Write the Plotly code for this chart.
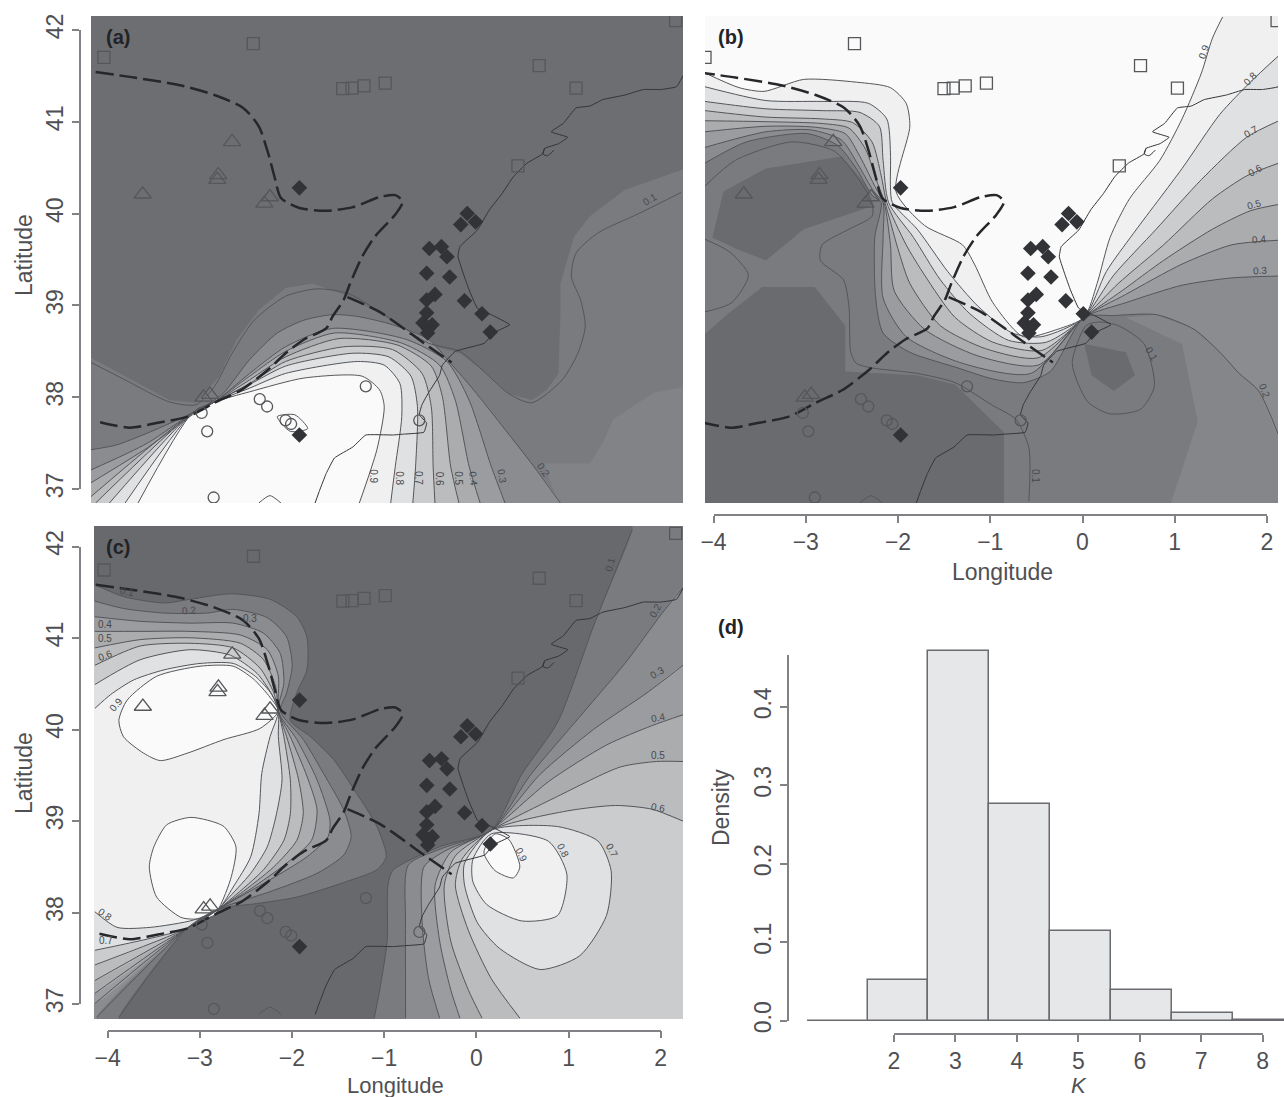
import plotly.graph_objects as go

W, H = 1284, 1097

# ------------------------------------------------------------------ data
SQ_LON = [-4.04, -2.42, -1.45, -1.35, -1.22, -0.99, 0.68, 1.08, 0.45, 2.16]
SQ_LAT = [41.70, 41.85, 41.36, 41.365, 41.39, 41.42, 41.61, 41.365, 40.52, 42.10]
TRI_LON = [-2.65, -2.80, -2.81, -3.62, -2.24, -2.30, -2.89, -2.96]
TRI_LAT = [40.78, 40.42, 40.37, 40.21, 40.18, 40.11, 38.03, 38.00]
CIR_LON = [-2.98, -2.92, -2.85, -2.35, -2.27, -1.20, -0.62, -2.07, -2.01]
CIR_LAT = [37.83, 37.63, 36.91, 37.98, 37.90, 38.12, 37.75, 37.75, 37.71]
DIA_LON = [-1.92, -0.10, -0.17, -0.01, -0.51, -0.38, -0.32, -0.54, -0.29, -0.45, -0.54, -0.13, -0.54, 0.06, -0.58, -0.48, -0.52, -0.53, 0.15, -1.92]
DIA_LAT = [40.28, 40.00, 39.88, 39.91, 39.62, 39.64, 39.53, 39.35, 39.31, 39.12, 39.06, 39.05, 38.92, 38.91, 38.81, 38.79, 38.75, 38.70, 38.71, 37.59]

COAST_LON = [2.24, 2.17, 2.00, 1.81, 1.61, 1.37, 1.23, 1.08, 0.94, 0.81, 0.99, 0.89, 0.74, 0.72, 0.55, 0.40, 0.28, 0.14, 0.01, -0.18, -0.20, -0.13, -0.08, 0.01, 0.16, 0.36, 0.18, 0.09, -0.23, -0.37, -0.40, -0.52, -0.59, -0.62, -0.54, -0.57, -0.78, -0.91, -1.20, -1.34, -1.54, -1.63, -1.70, -1.75]
COAST_LAT = [41.50, 41.38, 41.35, 41.35, 41.29, 41.24, 41.17, 41.15, 40.98, 40.89, 40.83, 40.76, 40.71, 40.65, 40.55, 40.40, 40.22, 40.04, 39.82, 39.64, 39.53, 39.31, 39.17, 38.97, 38.90, 38.79, 38.70, 38.59, 38.50, 38.35, 38.24, 38.05, 37.92, 37.81, 37.72, 37.62, 37.60, 37.59, 37.59, 37.46, 37.34, 37.17, 36.99, 36.85]
BAY_LON = [0.74, 0.72, 0.77, 0.84]
BAY_LAT = [40.71, 40.65, 40.63, 40.69]
ARC_LON = [-2.36, -2.24, -2.12]
ARC_LAT = [36.85, 36.93, 36.85]

DASH1_LON = [-4.13, -3.71, -3.23, -2.84, -2.53, -2.36, -2.26, -2.19, -2.12, -1.92, -1.63, -1.34, -1.05, -0.88, -0.80, -0.88, -1.10, -1.24, -1.37, -1.44, -1.56, -1.63, -1.87, -2.07, -2.26, -2.55, -2.84, -3.13, -3.47, -3.76, -4.13]
DASH1_LAT = [41.54, 41.48, 41.40, 41.29, 41.15, 40.95, 40.66, 40.40, 40.17, 40.06, 40.03, 40.07, 40.18, 40.20, 40.13, 39.99, 39.75, 39.53, 39.24, 39.06, 38.88, 38.75, 38.63, 38.48, 38.30, 38.08, 37.94, 37.79, 37.72, 37.67, 37.74]
DASH2_LON = [-1.40, -1.05, -0.57, -0.27]
DASH2_LAT = [39.09, 38.93, 38.59, 38.38]

# panel (a) contours
A01_LON = [2.22, 1.76, 1.32, 1.08, 1.03, 1.13, 1.18, 1.10, 0.93, 0.60, 0.35, 0.06, -0.18, -0.52, -0.91, -1.39, -1.73, -2.07, -2.41, -2.65, -2.84, -3.04, -3.33, -3.81, -4.20]
A01_LAT = [40.23, 40.00, 39.79, 39.57, 39.31, 39.06, 38.77, 38.48, 38.19, 37.94, 38.04, 38.30, 38.50, 38.59, 38.84, 39.13, 39.18, 39.10, 38.84, 38.48, 38.12, 37.92, 37.95, 38.19, 38.39]
A02_LON = [-4.18, -3.91, -3.57, -3.23, -2.99, -2.75, -2.46, -2.16, -1.87, -1.56, -1.29, -0.91, -0.52, -0.28, -0.03, 0.31, 0.62, 0.91]
A02_LAT = [37.43, 37.48, 37.61, 37.76, 37.88, 38.04, 38.41, 38.70, 38.84, 38.90, 38.88, 38.79, 38.63, 38.37, 38.08, 37.65, 37.25, 36.85]
A03_LON = [-4.18, -3.57, -3.08, -2.84, -2.46, -2.07, -1.56, -0.76, -0.32, -0.08, 0.16, 0.31]
A03_LAT = [37.21, 37.50, 37.83, 37.95, 38.26, 38.55, 38.75, 38.63, 38.39, 37.97, 37.25, 36.85]
A04_LON = [-4.18, -3.57, -3.08, -2.84, -2.46, -2.07, -1.54, -0.81, -0.40, -0.23, -0.08, 0.04]
A04_LAT = [37.07, 37.45, 37.81, 37.95, 38.23, 38.50, 38.70, 38.59, 38.35, 37.97, 37.25, 36.85]
A05_LON = [-4.18, -3.08, -2.84, -2.46, -2.07, -1.49, -0.86, -0.49, -0.37, -0.28, -0.19]
A05_LAT = [36.92, 37.83, 37.95, 38.19, 38.44, 38.64, 38.57, 38.34, 38.01, 37.25, 36.85]
A06_LON = [-4.13, -3.08, -2.84, -2.46, -2.07, -1.44, -0.91, -0.59, -0.49, -0.47, -0.45]
A06_LAT = [36.85, 37.83, 37.95, 38.15, 38.39, 38.55, 38.52, 38.26, 37.90, 37.25, 36.85]
A07_LON = [-3.98, -3.08, -2.84, -2.46, -2.07, -1.34, -0.95, -0.71, -0.64, -0.66, -0.69]
A07_LAT = [36.85, 37.83, 37.95, 38.14, 38.34, 38.48, 38.44, 38.23, 37.90, 37.25, 36.85]
A08_LON = [-3.81, -3.08, -2.84, -2.46, -2.07, -1.29, -1.00, -0.83, -0.81, -0.88, -0.93]
A08_LAT = [36.85, 37.83, 37.95, 38.10, 38.26, 38.39, 38.35, 38.15, 37.79, 37.25, 36.85]
A09_LON = [-3.67, -3.08, -2.84, -2.46, -1.87, -1.24, -1.05, -1.00, -1.08, -1.27]
A09_LAT = [36.85, 37.83, 37.95, 38.06, 38.21, 38.23, 38.08, 37.90, 37.43, 36.85]
A10_LON = [-2.16, -1.97, -1.83, -2.02, -2.16]
A10_LAT = [37.79, 37.81, 37.66, 37.63, 37.79]
# panel (a) shading edges
AF1_LON = [2.24, 1.61, 1.23, 1.06, 0.91, 0.91, 0.89, 0.76, 0.60, 0.35, 0.11, -0.18, -0.52, -0.91, -1.39, -1.78, -2.07, -2.36, -2.60, -2.79, -3.04, -3.33, -3.81, -4.18]
AF1_LAT = [40.48, 40.26, 39.97, 39.75, 39.24, 38.88, 38.26, 38.08, 37.97, 38.04, 38.26, 38.48, 38.57, 38.83, 39.10, 39.24, 39.19, 38.95, 38.63, 38.23, 37.94, 37.97, 38.23, 38.43]
AF2_LON = [2.40, 1.92, 1.48, 1.39, 1.23, 0.73, 0.91, 2.40]
AF2_LAT = [38.14, 38.05, 37.76, 37.54, 37.28, 37.28, 36.80, 36.80]

# panel (b) contours
B09_LON = [-4.04, -3.67, -3.40, -2.97, -2.40, -2.03, -1.86, -1.82, -1.97, -1.66, -1.25, -1.12, -0.92, -0.59, -0.22, 0.07, 0.21, 0.35, 0.56, 0.89, 1.13, 1.34, 1.46, 1.57]
B09_LAT = [41.53, 41.37, 41.33, 41.46, 41.43, 41.37, 41.20, 40.95, 40.24, 39.87, 39.66, 39.45, 39.03, 38.66, 38.74, 38.87, 39.24, 39.74, 40.16, 40.58, 41.03, 41.53, 41.91, 42.14]
B08_LON = [-4.04, -3.38, -2.77, -2.27, -2.07, -2.03, -2.03, -2.01, -1.74, -1.41, -1.08, -0.71, -0.39, 0.07, 0.31, 0.60, 1.13, 1.54, 1.87, 2.18]
B08_LAT = [41.38, 41.23, 41.22, 41.20, 41.03, 40.66, 40.28, 40.12, 39.83, 39.37, 38.99, 38.70, 38.66, 38.87, 39.37, 39.78, 40.49, 41.08, 41.43, 41.72]
B07_LON = [-4.04, -3.38, -2.77, -2.36, -2.15, -2.11, -2.05, -1.78, -1.49, -1.17, -0.75, -0.34, 0.07, 0.39, 0.85, 1.34, 1.83, 2.18]
B07_LAT = [41.22, 41.14, 41.12, 41.10, 40.95, 40.58, 40.12, 39.74, 39.28, 38.91, 38.62, 38.60, 38.87, 39.33, 39.83, 40.37, 40.83, 41.01]
B06_LON = [-4.04, -3.38, -2.77, -2.44, -2.23, -2.13, -2.07, -1.86, -1.66, -1.33, -0.92, -0.39, 0.07, 0.44, 0.93, 1.46, 1.83, 2.18]
B06_LAT = [41.12, 41.05, 41.03, 40.99, 40.78, 40.41, 40.12, 39.66, 39.33, 38.87, 38.60, 38.51, 38.87, 39.24, 39.66, 40.16, 40.41, 40.55]
B05_LON = [-4.04, -3.38, -2.77, -2.48, -2.30, -2.17, -2.09, -1.95, -1.82, -1.49, -1.00, -0.43, 0.07, 0.48, 0.93, 1.46, 1.87, 2.18]
B05_LAT = [41.01, 41.00, 40.98, 40.93, 40.70, 40.33, 40.12, 39.62, 39.24, 38.78, 38.53, 38.43, 38.87, 39.16, 39.49, 39.83, 40.03, 40.10]
B04_LON = [-4.04, -3.38, -2.85, -2.52, -2.36, -2.19, -2.10, -2.03, -1.99, -1.66, -1.08, -0.43, 0.07, 0.52, 1.13, 1.67, 2.18]
B04_LAT = [40.89, 40.95, 40.94, 40.87, 40.62, 40.28, 40.12, 39.66, 39.16, 38.74, 38.45, 38.35, 38.87, 39.12, 39.45, 39.66, 39.71]
B03_LON = [-4.04, -3.38, -2.89, -2.56, -2.38, -2.21, -2.11, -2.11, -2.11, -1.86, -1.25, -0.51, 0.07, 0.52, 1.13, 1.67, 2.18]
B03_LAT = [40.72, 40.89, 40.91, 40.80, 40.53, 40.24, 40.12, 39.74, 39.08, 38.66, 38.37, 38.26, 38.87, 39.03, 39.22, 39.30, 39.32]
B02_LON = [-4.04, -3.59, -2.93, -2.60, -2.40, -2.23, -2.13, -2.20, -2.19, -2.11, -1.82, -1.33, -0.92, -0.59, -0.30, 0.07, 0.39, 0.85, 1.26, 1.54, 1.75, 1.96, 2.18]
B02_LAT = [40.55, 40.78, 40.87, 40.74, 40.49, 40.20, 40.12, 39.74, 39.08, 38.70, 38.49, 38.33, 38.20, 38.16, 38.28, 38.87, 38.89, 38.90, 38.74, 38.49, 38.26, 38.07, 37.58]
B01A_LON = [-4.04, -3.71, -3.10, -2.64, -2.40, -2.23, -2.23, -2.48, -2.77, -2.79, -2.54, -2.48, -2.46, -2.40, -2.23, -1.74, -1.33, -0.92, -0.67, -0.53, -0.53]
B01A_LAT = [40.30, 40.58, 40.78, 40.68, 40.41, 40.12, 39.97, 39.83, 39.66, 39.49, 39.28, 38.99, 38.49, 38.37, 38.32, 38.26, 38.16, 37.91, 37.76, 37.45, 36.87]
B01B_LON = [-4.04, -3.77, -3.57, -3.75, -4.04]
B01B_LAT = [39.72, 39.58, 39.33, 39.03, 38.93]
B01C_LON = [0.09, -0.06, 0.11, 0.35, 0.68, 0.83, 0.72, 0.44, 0.23, 0.09]
B01C_LAT = [38.78, 38.37, 37.95, 37.82, 37.87, 38.12, 38.58, 38.78, 38.82, 38.78]
# panel (b) shading edges
BF1_LON = [-3.96, -3.84, -3.38, -2.56, -2.27, -2.23, -2.97, -3.38, -3.71]
BF1_LAT = [39.74, 40.24, 40.49, 40.62, 40.28, 40.08, 39.83, 39.49, 39.62]
BF2_LON = [-4.20, -3.79, -3.42, -2.85, -2.52, -2.52, -1.74, -1.33, -0.80, -0.80, -4.20]
BF2_LAT = [38.55, 38.91, 39.20, 39.20, 38.78, 38.28, 38.24, 38.14, 37.62, 36.70, 36.70]
BF3_LON = [1.01, 1.30, 1.13, 0.52, 0.85, 1.26, 1.54, 1.75, 1.96, 2.30, 2.30, 1.01]
BF3_LAT = [36.85, 37.74, 38.58, 38.87, 38.90, 38.74, 38.49, 38.26, 38.07, 37.58, 36.70, 36.70]
BF4_LON = [0.07, 0.52, 0.62, 0.39, 0.15]
BF4_LAT = [38.58, 38.49, 38.24, 38.07, 38.24]

# panel (c) contours, left group
C01L_LON = [-4.14, -3.83, -3.39, -3.11, -2.67, -2.24, -1.95, -1.84, -1.84, -1.95, -2.02, -1.80, -1.55, -1.30, -1.08, -0.98, -1.08, -1.41, -1.95, -2.38, -2.80, -3.14, -3.88]
C01L_LAT = [41.54, 41.41, 41.34, 41.38, 41.44, 41.38, 41.19, 40.97, 40.61, 40.36, 40.06, 39.88, 39.63, 39.26, 38.90, 38.57, 38.43, 38.30, 38.13, 38.06, 38.00, 37.79, 36.82]
C02L_LON = [-4.14, -3.83, -3.39, -2.92, -2.64, -2.27, -2.06, -2.00, -2.06, -2.13, -1.88, -1.66, -1.44, -1.36, -1.44, -1.73, -2.24, -2.80, -3.14, -4.12]
C02L_LAT = [41.36, 41.28, 41.23, 41.23, 41.27, 41.18, 40.97, 40.65, 40.36, 40.16, 39.85, 39.48, 39.08, 38.79, 38.59, 38.39, 38.19, 38.00, 37.79, 36.82]
C03L_LON = [-4.14, -3.65, -3.11, -2.64, -2.31, -2.13, -2.09, -2.15, -1.95, -1.73, -1.59, -1.61, -1.84, -2.24, -2.80, -3.14, -4.14]
C03L_LAT = [41.19, 41.14, 41.12, 41.12, 41.01, 40.79, 40.47, 40.16, 39.85, 39.41, 38.97, 38.79, 38.57, 38.32, 38.00, 37.79, 36.97]
C04L_LON = [-4.14, -3.65, -3.11, -2.56, -2.27, -2.15, -2.15, -2.02, -1.84, -1.73, -1.79, -2.06, -2.45, -2.80, -3.14, -4.14]
C04L_LAT = [41.03, 41.03, 41.03, 40.99, 40.83, 40.54, 40.16, 39.88, 39.45, 39.08, 38.75, 38.50, 38.22, 38.00, 37.79, 37.08]
C05L_LON = [-4.14, -3.65, -3.11, -2.56, -2.31, -2.18, -2.15, -2.06, -1.93, -1.88, -1.95, -2.20, -2.56, -2.80, -3.14, -4.14]
C05L_LAT = [40.85, 40.94, 40.96, 40.90, 40.72, 40.43, 40.16, 39.88, 39.41, 39.04, 38.75, 38.46, 38.17, 38.00, 37.79, 37.22]
C06L_LON = [-4.14, -3.65, -3.11, -2.64, -2.35, -2.20, -2.15, -2.09, -2.02, -2.02, -2.09, -2.31, -2.64, -2.80, -3.14, -4.14]
C06L_LAT = [40.66, 40.87, 40.90, 40.85, 40.63, 40.36, 40.16, 39.88, 39.41, 39.04, 38.75, 38.43, 38.13, 38.00, 37.79, 37.39]
C07L_LON = [-4.14, -3.65, -3.11, -2.67, -2.38, -2.22, -2.15, -2.15, -2.11, -2.17, -2.27, -2.45, -2.71, -2.80, -3.14, -4.14]
C07L_LAT = [40.45, 40.72, 40.83, 40.77, 40.57, 40.34, 40.16, 39.88, 39.41, 39.04, 38.68, 38.39, 38.10, 38.00, 37.79, 37.55]
C08L_LON = [-4.14, -3.97, -3.72, -3.39, -3.00, -2.64, -2.40, -2.22, -2.15, -2.24, -2.33, -2.36, -2.45, -2.64, -2.80, -3.07, -3.54, -3.90, -4.14]
C08L_LAT = [40.19, 40.34, 40.50, 40.61, 40.68, 40.68, 40.54, 40.34, 40.16, 39.88, 39.48, 39.04, 38.57, 38.24, 38.00, 37.88, 37.80, 37.80, 37.97]
C09A_LON = [-3.88, -3.79, -3.47, -3.00, -2.64, -2.42, -2.24, -2.15, -2.35, -2.74, -3.14, -3.43, -3.61, -3.83, -3.88]
C09A_LAT = [40.06, 40.28, 40.54, 40.65, 40.65, 40.51, 40.31, 40.16, 39.97, 39.85, 39.70, 39.62, 39.70, 39.88, 40.06]
C09B_LON = [-3.11, -3.36, -3.50, -3.55, -3.47, -3.21, -3.07, -2.85, -2.67, -2.61, -2.74, -2.92, -3.11]
C09B_LAT = [39.00, 38.92, 38.68, 38.46, 38.13, 37.91, 37.89, 37.93, 38.32, 38.68, 38.90, 38.97, 39.00]
# panel (c) contours, right group
C01R_LON = [-1.11, -1.05, -0.97, -0.96, -0.91, -0.40, 0.16, 0.49, 0.88, 1.27, 1.69]
C01R_LAT = [36.81, 37.12, 37.65, 38.26, 38.42, 38.68, 38.86, 39.47, 40.04, 41.09, 42.14]
C02R_LON = [-0.77, -0.77, -0.77, -0.74, -0.38, 0.16, 0.59, 1.07, 1.61, 2.00, 2.24]
C02R_LAT = [36.81, 37.24, 37.85, 38.48, 38.66, 38.86, 39.47, 40.04, 40.68, 41.21, 41.51]
C03R_LON = [-0.40, -0.52, -0.59, -0.57, -0.33, 0.16, 0.69, 1.27, 1.85, 2.24]
C03R_LAT = [36.81, 37.24, 37.85, 38.46, 38.64, 38.86, 39.47, 39.96, 40.36, 40.66]
C04R_LON = [-0.18, -0.28, -0.40, -0.45, -0.28, 0.16, 0.78, 1.41, 1.90, 2.24]
C04R_LAT = [36.81, 37.12, 37.65, 38.26, 38.62, 38.86, 39.39, 39.79, 40.00, 40.12]
C05R_LON = [0.06, -0.09, -0.28, -0.35, -0.23, 0.16, 0.88, 1.56, 1.95, 2.24]
C05R_LAT = [36.81, 37.12, 37.65, 38.26, 38.58, 38.86, 39.23, 39.55, 39.61, 39.61]
C06R_LON = [0.47, 0.16, -0.09, -0.23, -0.16, 0.16, 0.98, 1.51, 1.90, 2.24]
C06R_LAT = [36.81, 37.24, 37.77, 38.26, 38.54, 38.86, 39.07, 39.13, 39.09, 38.96]
C07R_LON = [0.16, 0.88, 1.32, 1.46, 1.41, 1.12, 0.69, 0.25, 0.01, -0.13, -0.13, 0.16]
C07R_LAT = [38.86, 38.90, 38.74, 38.42, 37.93, 37.49, 37.34, 37.57, 37.85, 38.26, 38.50, 38.86]
C08R_LON = [0.16, 0.78, 0.98, 0.88, 0.49, 0.11, -0.04, -0.04, 0.16]
C08R_LAT = [38.82, 38.74, 38.38, 37.93, 37.87, 38.05, 38.30, 38.54, 38.82]
C09R_LON = [0.20, 0.35, 0.47, 0.40, 0.20, 0.08, 0.20]
C09R_LAT = [38.82, 38.76, 38.46, 38.34, 38.42, 38.62, 38.82]

# contour labels: text, lon, lat, rotation
A_LABELS = [("0.1", 1.88, 40.15, -30), ("0.2", 0.72, 37.21, 55), ("0.3", 0.28, 37.14, 80), ("0.4", -0.03, 37.12, 85), ("0.5", -0.19, 37.12, 90), ("0.6", -0.40, 37.12, 90), ("0.7", -0.62, 37.12, 90), ("0.8", -0.83, 37.12, 90), ("0.9", -1.12, 37.14, 90)]
B_LABELS = [("0.9", 1.37, 41.76, -70), ("0.8", 1.87, 41.47, -45), ("0.7", 1.88, 40.89, -30), ("0.6", 1.92, 40.47, -30), ("0.5", 1.91, 40.10, -15), ("0.4", 1.96, 39.72, -5), ("0.3", 1.98, 39.38, -3), ("0.2", 2.02, 38.07, 70), ("0.1", 0.80, 38.48, 60), ("0.1", -0.46, 37.14, 90)]
C_LABELS = [("0.1", 1.45, 41.76, -75), ("0.2", 1.94, 41.26, -60), ("0.3", 1.96, 40.58, -30), ("0.4", 1.97, 40.09, -10), ("0.5", 1.97, 39.68, 0), ("0.6", 1.97, 39.11, 10), ("0.7", 1.47, 38.64, 60), ("0.8", 0.94, 38.64, 65), ("0.9", 0.49, 38.60, 65), ("0.1", -3.79, 41.47, 10), ("0.2", -3.12, 41.26, -5), ("0.3", -2.46, 41.17, 0), ("0.4", -4.03, 41.10, 0), ("0.5", -4.03, 40.95, 0), ("0.6", -4.03, 40.77, -20), ("0.9", -3.91, 40.23, -50), ("0.8", -4.03, 37.94, 35), ("0.7", -4.02, 37.66, 0)]

# histogram and axis ticks
K_VALUES = [1, 2, 3, 4, 5, 6, 7, 8]
DENSITY = [0.0, 0.052, 0.471, 0.276, 0.115, 0.039, 0.010, 0.0015]
LON_TICKS = [-4, -3, -2, -1, 0, 1, 2]
LAT_TICKS = [37, 38, 39, 40, 41, 42]
K_TICKS = [2, 3, 4, 5, 6, 7, 8]
DENSITY_TICKS = [0.0, 0.1, 0.2, 0.3, 0.4]
DENSITY_TICK_TEXT = ["0.0", "0.1", "0.2", "0.3", "0.4"]

LEVEL_GRAY = {1: "#7a7b7f", 2: "#8b8c8f", 3: "#9b9c9f", 4: "#abacae", 5: "#bbbcbe", 6: "#cbccce", 7: "#e0e1e2", 8: "#f0f0f1", 9: "#fafafa"}
FONT = "Liberation Sans"
AXIS_GRAY = "#808285"
TEXT_GRAY = "#4f5053"
CONTOUR_GRAY = "#54565a"
TRANSPARENT = "rgba(0,0,0,0)"

# ------------------------------------------------------------------ helpers
def dx(px0, px1):
    return [px0 / W, px1 / W]

def dy(top, bottom):
    return [1 - bottom / H, 1 - top / H]

fig = go.Figure()

def backdrop(ax, x0, x1, y0, y1, color):
    fig.add_trace(go.Scatter(x=[x0, x1, x1, x0], y=[y0, y0, y1, y1], xaxis=f"x{ax}", yaxis=f"y{ax}", mode="lines", fill="toself",
                             fillcolor=color, line=dict(width=0), hoverinfo="skip", showlegend=False))

def fill(ax, lon, lat, color, shape="spline"):
    fig.add_trace(go.Scatter(x=lon, y=lat, xaxis=f"x{ax}", yaxis=f"y{ax}", mode="lines", fill="toself",
                             fillcolor=color, line=dict(width=0, shape=shape, smoothing=0.7), hoverinfo="skip", showlegend=False))

def line(ax, lon, lat, color=CONTOUR_GRAY, width=1.0, dash=None, smoothing=0.7):
    fig.add_trace(go.Scatter(x=lon, y=lat, xaxis=f"x{ax}", yaxis=f"y{ax}", mode="lines",
                             line=dict(color=color, width=width, dash=dash, shape="spline", smoothing=smoothing),
                             hoverinfo="skip", showlegend=False))

def close_bottom(lon, lat):
    return lon + [lon[-1], -4.3, -4.3], lat + [36.7, 36.7, lat[0]]

def close_top(lon, lat):
    end = lon[-1] if lat[-1] > 42 else 2.3
    return lon + [end, 2.3, -4.2, -4.2], lat + [42.3 if lat[-1] > 42 else lat[-1], 42.3, 42.3, lat[0]]

def close_left(lon, lat):
    if lat[-1] < 36.85:
        return lon + [lon[-1], -4.3, -4.3], lat + [36.7, 36.7, lat[0]]
    return lon + [-4.3, -4.3], lat + [lat[-1], lat[0]]

def close_right(lon, lat):
    if lat[-1] > 42:
        return lon + [lon[-1], 2.4, 2.4, lon[0]], lat + [42.3, 42.3, 36.7, 36.7]
    return lon + [2.4, 2.4, lon[0]], lat + [lat[-1], 36.7, 36.7]

def common_marks(ax, tri_color="#55575a", sq_color="#55575a", cir_color="#55575a"):
    line(ax, COAST_LON, COAST_LAT, color="#333539", width=1.0, smoothing=0.3)
    line(ax, BAY_LON, BAY_LAT, color="#333539", width=1.0)
    line(ax, ARC_LON, ARC_LAT)
    line(ax, DASH1_LON, DASH1_LAT, color="#26272a", width=2.5, dash="18px,6px")
    line(ax, DASH2_LON, DASH2_LAT, color="#26272a", width=2.5, dash="18px,6px")
    for lon, lat, sym, col, size in [
        (SQ_LON, SQ_LAT, "square-open", sq_color, 12),
        (TRI_LON, TRI_LAT, "triangle-up-open", tri_color, 15),
        (CIR_LON, CIR_LAT, "circle-open", cir_color, 11),
    ]:
        fig.add_trace(go.Scatter(x=lon, y=lat, xaxis=f"x{ax}", yaxis=f"y{ax}", mode="markers",
                                 marker=dict(symbol=sym, size=size, color=col, line=dict(width=1.3, color=col)),
                                 hoverinfo="skip", showlegend=False))
    fig.add_trace(go.Scatter(x=DIA_LON, y=DIA_LAT, xaxis=f"x{ax}", yaxis=f"y{ax}", mode="markers",
                             marker=dict(symbol="diamond", size=12, color="#323337"), hoverinfo="skip", showlegend=False))

# ------------------------------------------------------------------ panel (a)
backdrop(1, -4.4, 2.5, 36.6, 42.4, "#6d6e72")
x = AF1_LON + [-4.3, -4.3, 2.4, 2.4]
y = AF1_LAT + [AF1_LAT[-1], 36.7, 36.7, AF1_LAT[0]]
fill(1, x, y, "#7a7b7f", shape="linear")
fill(1, AF2_LON, AF2_LAT, "#828387", shape="linear")
for lev, lon, lat in [(2, A02_LON, A02_LAT), (3, A03_LON, A03_LAT), (4, A04_LON, A04_LAT), (5, A05_LON, A05_LAT),
                      (6, A06_LON, A06_LAT), (7, A07_LON, A07_LAT), (8, A08_LON, A08_LAT), (9, A09_LON, A09_LAT)]:
    px_, py_ = close_bottom(lon, lat)
    fill(1, px_, py_, LEVEL_GRAY[lev])
for lon, lat in [(A01_LON, A01_LAT), (A02_LON, A02_LAT), (A03_LON, A03_LAT), (A04_LON, A04_LAT), (A05_LON, A05_LAT),
                 (A06_LON, A06_LAT), (A07_LON, A07_LAT), (A08_LON, A08_LAT), (A09_LON, A09_LAT), (A10_LON, A10_LAT)]:
    line(1, lon, lat)
common_marks(1)

# ------------------------------------------------------------------ panel (b)
backdrop(2, -4.4, 2.5, 36.6, 42.4, "#7a7b7f")
fill(2, BF1_LON, BF1_LAT, "#6a6b6f", shape="linear")
fill(2, BF2_LON, BF2_LAT, "#6a6b6f", shape="linear")
fill(2, BF3_LON, BF3_LAT, "#85868a", shape="linear")
fill(2, BF4_LON, BF4_LAT, "#6a6b6f", shape="linear")
for lev, lon, lat in [(2, B02_LON, B02_LAT), (3, B03_LON, B03_LAT), (4, B04_LON, B04_LAT), (5, B05_LON, B05_LAT),
                      (6, B06_LON, B06_LAT), (7, B07_LON, B07_LAT), (8, B08_LON, B08_LAT), (9, B09_LON, B09_LAT)]:
    px_, py_ = close_top(lon, lat)
    fill(2, px_, py_, LEVEL_GRAY[lev])
for lon, lat in [(B01A_LON, B01A_LAT), (B01B_LON, B01B_LAT), (B01C_LON, B01C_LAT), (B02_LON, B02_LAT), (B03_LON, B03_LAT),
                 (B04_LON, B04_LAT), (B05_LON, B05_LAT), (B06_LON, B06_LAT), (B07_LON, B07_LAT), (B08_LON, B08_LAT), (B09_LON, B09_LAT)]:
    line(2, lon, lat)
common_marks(2)

# ------------------------------------------------------------------ panel (c)
backdrop(3, -4.4, 2.5, 36.6, 42.4, "#68696d")
left = [(1, C01L_LON, C01L_LAT), (2, C02L_LON, C02L_LAT), (3, C03L_LON, C03L_LAT), (4, C04L_LON, C04L_LAT),
        (5, C05L_LON, C05L_LAT), (6, C06L_LON, C06L_LAT), (7, C07L_LON, C07L_LAT), (8, C08L_LON, C08L_LAT)]
right = [(1, C01R_LON, C01R_LAT), (2, C02R_LON, C02R_LAT), (3, C03R_LON, C03R_LAT), (4, C04R_LON, C04R_LAT),
         (5, C05R_LON, C05R_LAT), (6, C06R_LON, C06R_LAT)]
for lev, lon, lat in left:
    px_, py_ = close_left(lon, lat)
    fill(3, px_, py_, LEVEL_GRAY[lev])
for lev, lon, lat in right:
    px_, py_ = close_right(lon, lat)
    fill(3, px_, py_, LEVEL_GRAY[lev])
fill(3, C07R_LON, C07R_LAT, LEVEL_GRAY[7])
fill(3, C08R_LON, C08R_LAT, LEVEL_GRAY[8])
fill(3, C09R_LON, C09R_LAT, LEVEL_GRAY[9])
fill(3, C09A_LON, C09A_LAT, LEVEL_GRAY[9])
fill(3, C09B_LON, C09B_LAT, LEVEL_GRAY[9])
for _, lon, lat in left + right:
    line(3, lon, lat)
for lon, lat in [(C07R_LON, C07R_LAT), (C08R_LON, C08R_LAT), (C09R_LON, C09R_LAT), (C09A_LON, C09A_LAT), (C09B_LON, C09B_LAT)]:
    line(3, lon, lat)
common_marks(3)

# ------------------------------------------------------------------ panel (d)
fig.add_trace(go.Bar(x=K_VALUES, y=DENSITY, width=1.0, xaxis="x4", yaxis="y4",
                     marker=dict(color="#e6e7e9", line=dict(color="#6a6b6e", width=1.5)),
                     hoverinfo="skip", showlegend=False))

# ------------------------------------------------------------------ tick axes (invisible carrier traces)
for ax_id, xs, ys in [(5, LON_TICKS, LAT_TICKS), (6, LON_TICKS, LAT_TICKS), (7, LON_TICKS, LAT_TICKS), (8, K_TICKS, DENSITY_TICKS)]:
    fig.add_trace(go.Scatter(x=[xs[0], xs[-1]], y=[ys[0], ys[-1]], xaxis=f"x{ax_id}", yaxis=f"y{ax_id}", mode="markers",
                             marker=dict(opacity=0, size=1), hoverinfo="skip", showlegend=False))

hidden = dict(visible=False, fixedrange=True)
tick = dict(showline=True, linecolor=AXIS_GRAY, linewidth=1.5, ticks="outside", ticklen=7, tickwidth=1.5, tickcolor=AXIS_GRAY,
            showgrid=False, zeroline=False, tickfont=dict(family=FONT, size=23, color=TEXT_GRAY), anchor="free", fixedrange=True,
            automargin=False)

layout = dict(
    width=W, height=H, margin=dict(l=0, r=0, t=0, b=0, pad=0, autoexpand=False), autosize=False,
    paper_bgcolor="white", plot_bgcolor=TRANSPARENT, showlegend=False, bargap=0,
    # panel rectangles
    xaxis=dict(hidden, domain=dx(91, 683), range=[-4.18, 2.24]),
    yaxis=dict(hidden, domain=dy(16, 503), range=[36.85, 42.15]),
    xaxis2=dict(hidden, domain=dx(705, 1278), range=[-4.04, 2.17]),
    yaxis2=dict(hidden, domain=dy(16, 503), range=[36.85, 42.15]),
    xaxis3=dict(hidden, domain=dx(94, 683), range=[-4.15, 2.24]),
    yaxis3=dict(hidden, domain=dy(526, 1019), range=[36.80, 42.18]),
    xaxis4=dict(hidden, domain=dx(807, 1284), range=[0.505, 8.34]),
    yaxis4=dict(hidden, domain=dy(640, 1021), range=[0, 0.485]),
    # tick axes
    xaxis5=dict(hidden, domain=dx(107.6, 660.7), range=[-4, 2]),
    yaxis5=dict(tick, domain=dy(30, 489), range=[37, 42], tickvals=LAT_TICKS, tickangle=-90, position=80 / W),
    xaxis6=dict(tick, domain=dx(713.5, 1267), range=[-4, 2], tickvals=LON_TICKS, position=1 - 515 / H),
    yaxis6=dict(hidden, domain=dy(30, 489), range=[37, 42]),
    xaxis7=dict(tick, domain=dx(107.6, 660.7), range=[-4, 2], tickvals=LON_TICKS, position=1 - 1030.5 / H),
    yaxis7=dict(tick, domain=dy(546.5, 1004), range=[37, 42], tickvals=LAT_TICKS, tickangle=-90, position=80 / W),
    xaxis8=dict(tick, domain=dx(894, 1262.7), range=[2, 8], tickvals=K_TICKS, position=1 - 1034 / H),
    yaxis8=dict(tick, domain=dy(655, 1020.7), range=[0, 0.466], tickvals=DENSITY_TICKS, ticktext=DENSITY_TICK_TEXT,
                tickangle=-90, position=788 / W),
)
fig.update_layout(**layout)

def note(text, px, py, size, angle=0, color=TEXT_GRAY, bold=False, italic=False):
    t = text
    if bold:
        t = f"<b>{t}</b>"
    if italic:
        t = f"<i>{t}</i>"
    fig.add_annotation(text=t, x=px / W, y=1 - py / H, xref="paper", yref="paper", showarrow=False, textangle=angle,
                       xanchor="center", yanchor="middle", font=dict(family=FONT, size=size, color=color))

for txt, px, py in [("(a)", 118, 37), ("(b)", 731, 37), ("(c)", 118, 547), ("(d)", 731, 627)]:
    note(txt, px, py, 20, color="#222326", bold=True)
note("Latitude", 24, 255, 23, -90)
note("Latitude", 24, 773, 23, -90)
note("Longitude", 1002, 572, 23)
note("Longitude", 395, 1085, 22)
note("Density", 721, 808, 23, -90)
note("K", 1079, 1085, 22, italic=True)

for ax_id, labels in [("", A_LABELS), ("2", B_LABELS), ("3", C_LABELS)]:
    for txt, lon, lat, ang in labels:
        fig.add_annotation(text=txt, x=lon, y=lat, xref=f"x{ax_id}", yref=f"y{ax_id}", showarrow=False, textangle=ang,
                           font=dict(family=FONT, size=10, color="#47494c"), bgcolor=TRANSPARENT)

fig.write_html("out.html", post_script="document.body.style.margin='0';", config={"displayModeBar": False})
